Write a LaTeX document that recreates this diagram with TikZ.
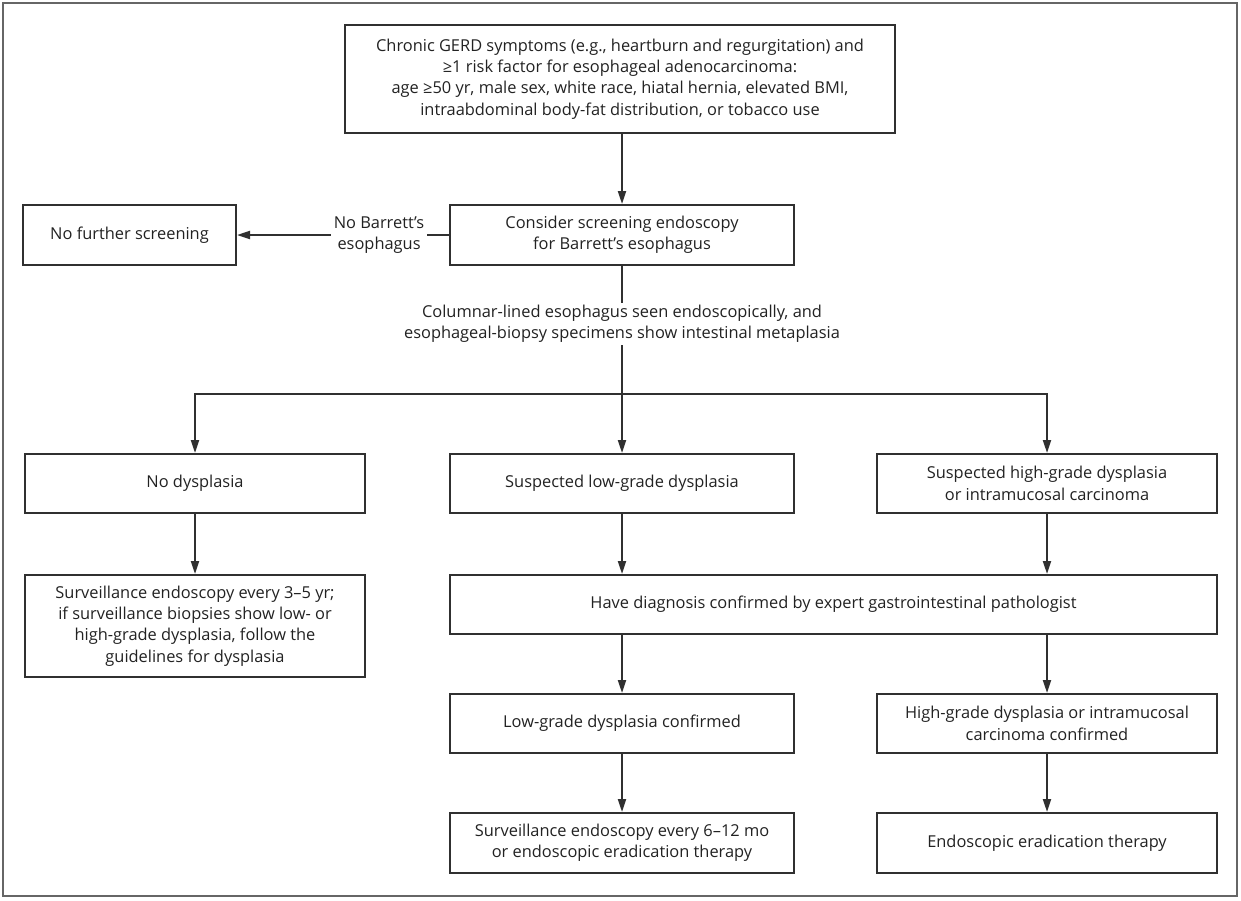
\documentclass[tikz,border=0pt]{standalone}
\usepackage{fontspec}
\setmainfont{Open Sans}
\usetikzlibrary{arrows.meta}
\definecolor{linec}{HTML}{303030}
\definecolor{framec}{HTML}{666666}
\definecolor{textc}{HTML}{222222}
\tikzset{
  x=1pt, y=-1pt,
  box/.style={draw=linec, line width=2pt, inner sep=0pt, align=center, text=textc,
    font=\fontsize{16.4}{21.4}\selectfont},
  lbl/.style={fill=white, inner sep=3pt, align=center, text=textc,
    font=\fontsize{16.4}{21.4}\selectfont},
  conn/.style={draw=linec, line width=2pt},
  arr/.style={conn, -{Triangle[length=13pt,width=8pt]}},
}
\begin{document}
\begin{tikzpicture}
\useasboundingbox (0,0) rectangle (1241,900);
\draw[framec, line width=2pt] (3,3) rectangle (1237,896);
% boxes: center = corner midpoints
\node[box, minimum width=550pt, minimum height=108pt] (top) at (620,79)
  {Chronic GERD symptoms (e.g., heartburn and regurgitation) and\\
   ≥1 risk factor for esophageal adenocarcinoma:\\
   age ≥50 yr, male sex, white race, hiatal hernia, elevated BMI,\\
   intraabdominal body-fat distribution, or tobacco use};
\node[box, minimum width=344pt, minimum height=60pt] (consider) at (622,235)
  {Consider screening endoscopy\\for Barrett’s esophagus};
\node[box, minimum width=213pt, minimum height=60pt] (nofurther) at (129.5,235)
  {No further screening};
\node[box, minimum width=340pt, minimum height=59pt] (nodys) at (195,483.5)
  {No dysplasia};
\node[box, minimum width=344pt, minimum height=59pt] (slow) at (622,483.5)
  {Suspected low-grade dysplasia};
\node[box, minimum width=340pt, minimum height=59pt] (shigh) at (1047,483.5)
  {Suspected high-grade dysplasia\\or intramucosal carcinoma};
\node[box, minimum width=340pt, minimum height=102pt] (surv1) at (195,626)
  {Surveillance endoscopy every 3–5 yr;\\
   if surveillance biopsies show low- or\\
   high-grade dysplasia, follow the\\
   guidelines for dysplasia};
\node[box, minimum width=767pt, minimum height=59pt] (diag) at (833.5,604.5)
  {Have diagnosis confirmed by expert gastrointestinal pathologist};
\node[box, minimum width=344pt, minimum height=59pt] (lowc) at (622,723.5)
  {Low-grade dysplasia confirmed};
\node[box, minimum width=340pt, minimum height=59pt] (highc) at (1047,723.5)
  {High-grade dysplasia or intramucosal\\carcinoma confirmed};
\node[box, minimum width=344pt, minimum height=60pt] (surv2) at (622,843)
  {Surveillance endoscopy every 6–12 mo\\or endoscopic eradication therapy};
\node[box, minimum width=340pt, minimum height=60pt] (erad) at (1047,843)
  {Endoscopic eradication therapy};
% connectors
\draw[arr] (top.south -| consider.north) -- (consider.north);
\draw[arr] (consider.west) -- node[lbl, pos=0.33] (nob) {No Barrett’s\\esophagus} (nofurther.east);
\coordinate (split) at (622,394);
\coordinate (leftc) at (195,394);
\coordinate (rightc) at (1047,394);
\draw[conn] (consider.south) -- node[lbl, pos=0.45, inner sep=2pt] (col)
  {Columnar-lined esophagus seen endoscopically, and\\esophageal-biopsy specimens show intestinal metaplasia} (split);
\draw[conn, line cap=rect] (leftc) -- (rightc);
\draw[arr] (leftc) -- (nodys.north);
\draw[arr] (split) -- (slow.north);
\draw[arr] (rightc) -- (shigh.north);
\draw[arr] (nodys.south) -- (surv1.north);
\draw[arr] (slow.south) -- (slow.south |- diag.north);
\draw[arr] (shigh.south) -- (shigh.south |- diag.north);
\draw[arr] (lowc.north |- diag.south) -- (lowc.north);
\draw[arr] (highc.north |- diag.south) -- (highc.north);
\draw[arr] (lowc.south) -- (surv2.north);
\draw[arr] (highc.south) -- (erad.north);
\end{tikzpicture}
\end{document}
